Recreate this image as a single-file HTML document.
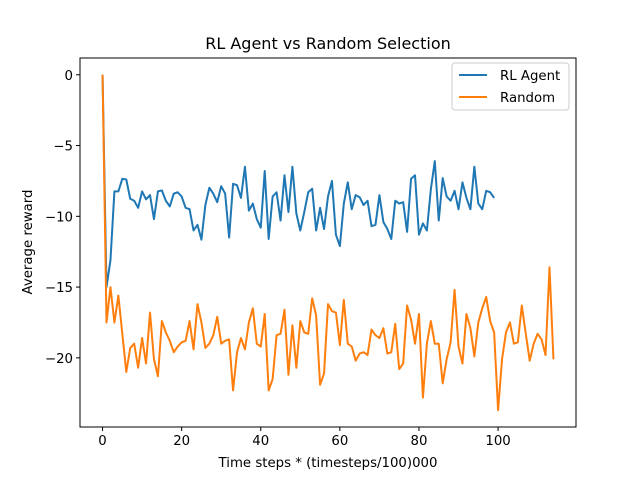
<!DOCTYPE html>
<html><head><meta charset="utf-8"><style>
body{margin:0;background:#fff}
svg{font-family:"DejaVu Sans","Liberation Sans",sans-serif}
</style></head><body>
<svg id="chart" width="640" height="480" xmlns="http://www.w3.org/2000/svg">
<rect width="640" height="480" fill="#fff"/>
<text x="328" y="49" font-size="16" text-anchor="middle">RL Agent vs Random Selection</text>
<g id="plot"></g>
<text x="328" y="467" font-size="13.3" text-anchor="middle">Time steps * (timesteps/100)000</text>
<text transform="translate(32,242) rotate(-90)" font-size="13.3" text-anchor="middle">Average reward</text>
<g>
<rect x="452" y="63" width="117" height="47" rx="3" fill="#fff" stroke="#ccc" stroke-width="1"/>
<line x1="459" y1="75" x2="487" y2="75" stroke="#1f77b4" stroke-width="2"/>
<text x="500" y="80" font-size="13.3">RL Agent</text>
<line x1="459" y1="97" x2="487" y2="97" stroke="#ff7f0e" stroke-width="2"/>
<text x="500" y="102" font-size="13.3">Random</text>
</g>
</svg>
<script>
const rlValues=[0,-15,-13.1,-8.24,-8.24,-7.35,-7.4,-8.76,-8.9,-9.4,-8.24,-8.8,-8.5,-10.2,-8.24,-8.17,-8.9,-9.3,-8.4,-8.3,-8.6,-9.4,-9.5,-11.0,-10.6,-11.65,-9.2,-7.98,-8.4,-9.0,-7.87,-8.4,-11.5,-7.7,-7.8,-8.7,-6.5,-9.6,-9.1,-10.2,-10.8,-6.8,-11.6,-8.6,-8.3,-10.3,-7.1,-9.7,-6.5,-9.8,-11.0,-9.7,-8.3,-8.05,-11.0,-9.4,-10.9,-8.6,-7.5,-11.3,-12.1,-9.1,-7.6,-9.5,-8.5,-8.65,-9.2,-8.9,-10.7,-10.6,-8.5,-10.4,-10.9,-11.6,-8.9,-9.1,-9.0,-11.1,-7.35,-7.1,-11.3,-10.5,-11.0,-8.1,-6.1,-10.3,-7.3,-8.6,-8.9,-8.2,-9.5,-7.6,-8.7,-9.5,-6.5,-9.1,-9.5,-8.2,-8.3,-8.7];
const randomValues=[0,-17.5,-15.0,-17.5,-15.6,-18.3,-21.0,-19.3,-19.0,-20.7,-18.6,-20.4,-16.8,-20.1,-21.3,-17.4,-18.2,-18.8,-19.6,-19.2,-18.9,-18.8,-17.4,-19.4,-16.2,-17.5,-19.3,-19.0,-18.4,-17.1,-19.0,-18.8,-18.7,-22.3,-19.6,-18.6,-19.4,-17.5,-16.5,-19.0,-19.2,-16.9,-22.3,-21.5,-18.4,-18.3,-16.6,-21.2,-17.7,-20.7,-17.4,-18.2,-18.3,-15.8,-17.0,-21.9,-21.1,-16.2,-16.7,-16.8,-19.1,-15.9,-19.0,-19.2,-20.2,-19.7,-19.6,-19.8,-18.0,-18.4,-18.6,-17.9,-19.7,-19.6,-17.6,-20.8,-20.4,-16.3,-17.3,-19.0,-16.9,-22.8,-19.0,-17.4,-19.0,-19.0,-21.8,-20.1,-18.9,-15.2,-19.2,-20.4,-16.9,-17.9,-19.9,-17.5,-16.5,-15.7,-17.4,-18.2,-23.7,-20.1,-18.2,-17.5,-19.0,-18.9,-16.3,-18.3,-20.2,-19.0,-18.3,-18.7,-19.8,-13.6,-20.1];
const xTicks=[0,20,40,60,80,100];
const yTicks=[0,-5,-10,-15,-20];
const NS="http://www.w3.org/2000/svg";
const L=80,R=576,T=58,B=427;
const allY=rlValues.concat(randomValues);
const yMax=Math.max(...allY),yMin=Math.min(...allY),yPad=(yMax-yMin)*0.05;
const xMaxData=randomValues.length-1,xPad=xMaxData*0.05;
function xs(v){return L+(v+xPad)/(xMaxData+2*xPad)*(R-L);}
function ys(v){return B-(v-(yMin-yPad))/((yMax+yPad)-(yMin-yPad))*(B-T);}
const g=document.getElementById('plot');
function mk(tag,attrs){const e=document.createElementNS(NS,tag);for(const k in attrs)e.setAttribute(k,attrs[k]);g.appendChild(e);return e;}
function series(vals,color,name){
  const p=mk('polyline',{points:vals.map((v,i)=>xs(i).toFixed(2)+','+ys(v).toFixed(2)).join(' '),fill:'none',stroke:color,'stroke-width':2,'stroke-linejoin':'round'});
  
  
}
series(rlValues,'#1f77b4','rl-agent-line');
series(randomValues,'#ff7f0e','random-line');
const frame=mk('rect',{x:L,y:T,width:R-L,height:B-T,fill:'none',stroke:'#000','stroke-width':1});


xTicks.forEach(t=>{
  const x=xs(t);
  const tk=mk('line',{x1:x,y1:B,x2:x,y2:B+4,stroke:'#000'});
  
  
  const tx=mk('text',{x:x,y:B+18,'font-size':13.3,'text-anchor':'middle'});
  tx.textContent=String(t);
  
  
});
yTicks.forEach(t=>{
  const y=ys(t);
  const tk=mk('line',{x1:L-4,y1:y,x2:L,y2:y,stroke:'#000'});
  
  
  const tx=mk('text',{x:L-7,y:y+5,'font-size':13.3,'text-anchor':'end'});
  tx.textContent=(t<0?'\u2212':'')+Math.abs(t);
  
  
});
</script>
</body></html>
